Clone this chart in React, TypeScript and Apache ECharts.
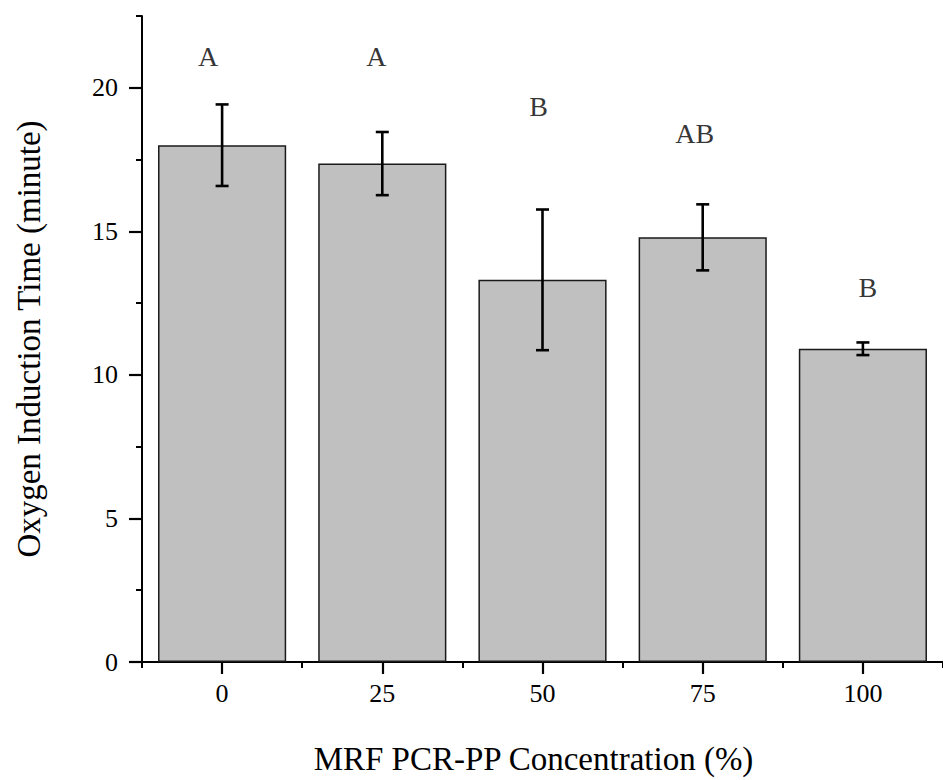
import React, { useEffect, useRef } from "react";
import * as echarts from "echarts";

// Concentration of MRF PCR-PP in the blend (%)
const CATEGORIES = ["0", "25", "50", "75", "100"];
// Mean oxygen induction time (minute)
const MEANS = [18.0, 17.36, 13.31, 14.79, 10.91];
// Standard deviation of each mean (minute)
const SDS = [1.42, 1.1, 2.45, 1.15, 0.22];
// Significance group letters and the height at which they are written
const GROUPS = ["A", "A", "B", "AB", "B"];
const GROUP_HEIGHTS = [21.1, 21.1, 19.35, 18.4, 13.05];
const GROUP_SHIFT_X = [-14, -6, -4, -8, 5];
// Y axis ticks
const Y_MAJOR = [0, 5, 10, 15, 20];

const FONT = "'Liberation Serif', 'Times New Roman', serif";

export default function App() {
  const ref = useRef<HTMLDivElement>(null);

  useEffect(() => {
    if (!ref.current) return;
    const chart = echarts.init(ref.current, null, { renderer: "svg" });

    const errorData = MEANS.map((m, i) => [i, m - SDS[i], m + SDS[i]]);
    const letterData = GROUPS.map((g, i) => ({
      value: [i, GROUP_HEIGHTS[i]],
      label: { offset: [GROUP_SHIFT_X[i], 0] },
    }));

    chart.setOption({
      animation: false,
      backgroundColor: "#ffffff",
      grid: { left: 142, top: 16, width: 808, height: 653 },
      xAxis: [
        {
          type: "category",
          data: CATEGORIES,
          position: "bottom",
          offset: 0,
          name: "MRF PCR-PP Concentration (%)",
          nameLocation: "middle",
          nameGap: 80,
          nameTextStyle: {
            fontFamily: FONT,
            fontSize: 33,
            color: "#000",
            padding: [0, 18, 0, 0],
          },
          axisLine: { show: true, lineStyle: { color: "#000", width: 2 } },
          axisTick: {
            show: true,
            alignWithLabel: true,
            length: 12,
            inside: false,
            lineStyle: { color: "#000", width: 2.2 },
          },
          axisLabel: {
            fontFamily: FONT,
            fontSize: 26,
            color: "#000",
            margin: 18,
          },
          splitLine: { show: false },
        },
        {
          // boundary ticks between categories
          type: "category",
          data: CATEGORIES,
          position: "bottom",
          offset: 0,
          axisLine: { show: false },
          axisTick: {
            show: true,
            alignWithLabel: false,
            length: 6,
            lineStyle: { color: "#000", width: 2 },
          },
          axisLabel: { show: false },
          splitLine: { show: false },
        },
      ],
      yAxis: [
        {
          type: "value",
          min: 0,
          max: 22.5,
          interval: 2.5,
          position: "left",
          offset: 0,
          name: "Oxygen Induction Time (minute)",
          nameLocation: "middle",
          nameRotate: 90,
          nameGap: 97,
          nameTextStyle: { fontFamily: FONT, fontSize: 33, color: "#000" },
          axisLine: { show: true, lineStyle: { color: "#000", width: 2 } },
          axisTick: {
            show: true,
            length: 6,
            lineStyle: { color: "#000", width: 2 },
          },
          axisLabel: { show: false },
          splitLine: { show: false },
        },
        {
          type: "value",
          min: 0,
          max: 22.5,
          interval: 5,
          position: "left",
          offset: 0,
          axisLine: { show: false },
          axisTick: {
            show: true,
            length: 13,
            customValues: Y_MAJOR,
            lineStyle: { color: "#000", width: 2.2 },
          },
          axisLabel: {
            show: true,
            customValues: Y_MAJOR,
            fontFamily: FONT,
            fontSize: 26,
            color: "#000",
            margin: 24,
          },
          splitLine: { show: false },
        },
      ],
      series: [
        {
          type: "bar",
          data: MEANS,
          xAxisIndex: 0,
          yAxisIndex: 0,
          barCategoryGap: "20%",
          itemStyle: {
            color: "#c0c0c0",
            borderColor: "#1a1a1a",
            borderWidth: 1.5,
          },
          z: 2,
        },
        {
          type: "custom",
          xAxisIndex: 0,
          yAxisIndex: 0,
          data: errorData,
          encode: { x: 0, y: [1, 2] },
          z: 5,
          renderItem: (params: any, api: any) => {
            const i = api.value(0);
            const lo = api.coord([i, api.value(1)]);
            const hi = api.coord([i, api.value(2)]);
            const half = 6.5;
            const style = { stroke: "#000", lineWidth: 2.6 };
            return {
              type: "group",
              children: [
                {
                  type: "line",
                  shape: { x1: hi[0], y1: hi[1], x2: lo[0], y2: lo[1] },
                  style,
                },
                {
                  type: "line",
                  shape: { x1: hi[0] - half, y1: hi[1], x2: hi[0] + half, y2: hi[1] },
                  style,
                },
                {
                  type: "line",
                  shape: { x1: lo[0] - half, y1: lo[1], x2: lo[0] + half, y2: lo[1] },
                  style,
                },
              ],
            };
          },
        },
        {
          type: "scatter",
          xAxisIndex: 0,
          yAxisIndex: 0,
          data: letterData,
          symbolSize: 0,
          z: 6,
          label: {
            show: true,
            position: "inside",
            formatter: (p: any) => GROUPS[p.dataIndex],
            fontFamily: FONT,
            fontSize: 28,
            color: "#000",
          },
        },
      ],
    });

    return () => chart.dispose();
  }, []);

  return (
    <div
      ref={ref}
      style={{ position: "absolute", left: 0, top: 0, width: 943, height: 780 }}
    />
  );
}
